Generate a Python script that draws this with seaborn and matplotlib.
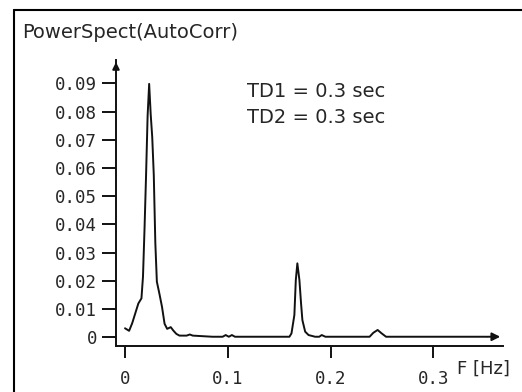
import matplotlib
matplotlib.use("Agg")
import matplotlib.pyplot as plt
from matplotlib.lines import Line2D
import pandas as pd
import seaborn as sns

# frequency axis (Hz) and spectral power
freq = [0.000, 0.004, 0.007, 0.010, 0.013, 0.016, 0.0175, 0.019, 0.0205, 0.022,
        0.0235, 0.025, 0.0265, 0.028, 0.0295, 0.031, 0.0335, 0.036, 0.0385, 0.041,
        0.0445, 0.047, 0.050, 0.053, 0.060, 0.063, 0.066, 0.085, 0.095, 0.098,
        0.101, 0.104, 0.107, 0.110, 0.160, 0.162, 0.1648, 0.1662, 0.1677, 0.1697,
        0.1713, 0.1726, 0.1753, 0.1786, 0.185, 0.189, 0.1914, 0.195, 0.238, 0.2416,
        0.2458, 0.2497, 0.254, 0.352]
power = [0.0032, 0.0023, 0.0050, 0.0085, 0.0120, 0.0138, 0.0215, 0.0385, 0.0575, 0.0785,
         0.0898, 0.0790, 0.0709, 0.0575, 0.0335, 0.0197, 0.0154, 0.0108, 0.0048, 0.0030,
         0.0036, 0.0024, 0.0012, 0.0006, 0.0006, 0.0010, 0.0006, 0.0002, 0.0002, 0.0008,
         0.0002, 0.0008, 0.0002, 0.0002, 0.0002, 0.0014, 0.0079, 0.0203, 0.0262, 0.0203,
         0.0120, 0.0061, 0.0020, 0.0008, 0.0002, 0.0002, 0.0008, 0.0002, 0.0002, 0.0016,
         0.0026, 0.0014, 0.0002, 0.0002]

x_ticks = [0, 0.1, 0.2, 0.3]
x_labels = ["0", "0.1", "0.2", "0.3"]
y_ticks = [0, 0.01, 0.02, 0.03, 0.04, 0.05, 0.06, 0.07, 0.08, 0.09]
y_labels = ["0", "0.01", "0.02", "0.03", "0.04", "0.05", "0.06", "0.07", "0.08", "0.09"]

title = "PowerSpect(AutoCorr)"
notes = ["TD1 = 0.3 sec", "TD2 = 0.3 sec"]
x_name = "F [Hz]"

sns.set_style("ticks")
plt.rcParams["font.family"] = ["DejaVu Sans"]

W, H = 522, 392
fig = plt.figure(figsize=(W / 100, H / 100), dpi=100)
fig.patch.set_facecolor("white")


def px(x, y):
    return x / W, 1 - y / H


# axes box in pixels: left 116, right 503, top 60, bottom 346
ax = fig.add_axes([116 / W, (H - 346) / H, (503 - 116) / W, (346 - 60) / H])
ax.set_facecolor("white")

df = pd.DataFrame({"freq": freq, "power": power})
sns.lineplot(data=df, x="freq", y="power", ax=ax, color="#111111", lw=1.4,
             estimator=None, sort=False)

ax.set_xlim(-0.00876, 0.3678)
ax.set_ylim(-0.00308, 0.09826)
ax.set_xlabel("")
ax.set_ylabel("")

for s in ["top", "right"]:
    ax.spines[s].set_visible(False)
for s in ["left", "bottom"]:
    ax.spines[s].set_linewidth(1.4)
    ax.spines[s].set_color("#111111")

mono = ["DejaVu Sans Mono"]
ax.set_xticks(x_ticks)
ax.set_xticklabels(x_labels, family=mono, fontsize=12.5)
ax.set_yticks(y_ticks)
ax.set_yticklabels(y_labels, family=mono, fontsize=12.5)
ax.tick_params(axis="y", direction="out", length=10, width=1.4, pad=3.6, color="#111111")
ax.tick_params(axis="x", direction="out", length=8.6, width=1.4, pad=9, color="#111111")

# arrow heads on the axes
ax.annotate("", xy=(-0.00876, 0.0985), xytext=(-0.00876, 0.094),
            arrowprops=dict(arrowstyle="-|>", lw=1.4, color="#111111",
                            mutation_scale=10), annotation_clip=False)
ax.annotate("", xy=(0.3678, 0.0002), xytext=(0.350, 0.0002),
            arrowprops=dict(arrowstyle="-|>", lw=1.4, color="#111111",
                            mutation_scale=12), annotation_clip=False)

# frame (left and top edges)
fig.add_artist(Line2D([13.5 / W, 13.5 / W], [0, 1 - 9.5 / H], color="black", lw=1.5))
fig.add_artist(Line2D([13.5 / W, 1], [1 - 9.5 / H, 1 - 9.5 / H], color="black", lw=1.5))

fig.text(*px(22, 32), title, fontsize=14, ha="left", va="center")
fig.text(*px(247, 97), notes[0], fontsize=14, ha="left", va="baseline")
fig.text(*px(247, 123), notes[1], fontsize=14, ha="left", va="baseline")
fig.text(*px(457, 369), x_name, fontsize=13, ha="left", va="center")

fig.savefig("out.png", dpi=100, facecolor="white")
